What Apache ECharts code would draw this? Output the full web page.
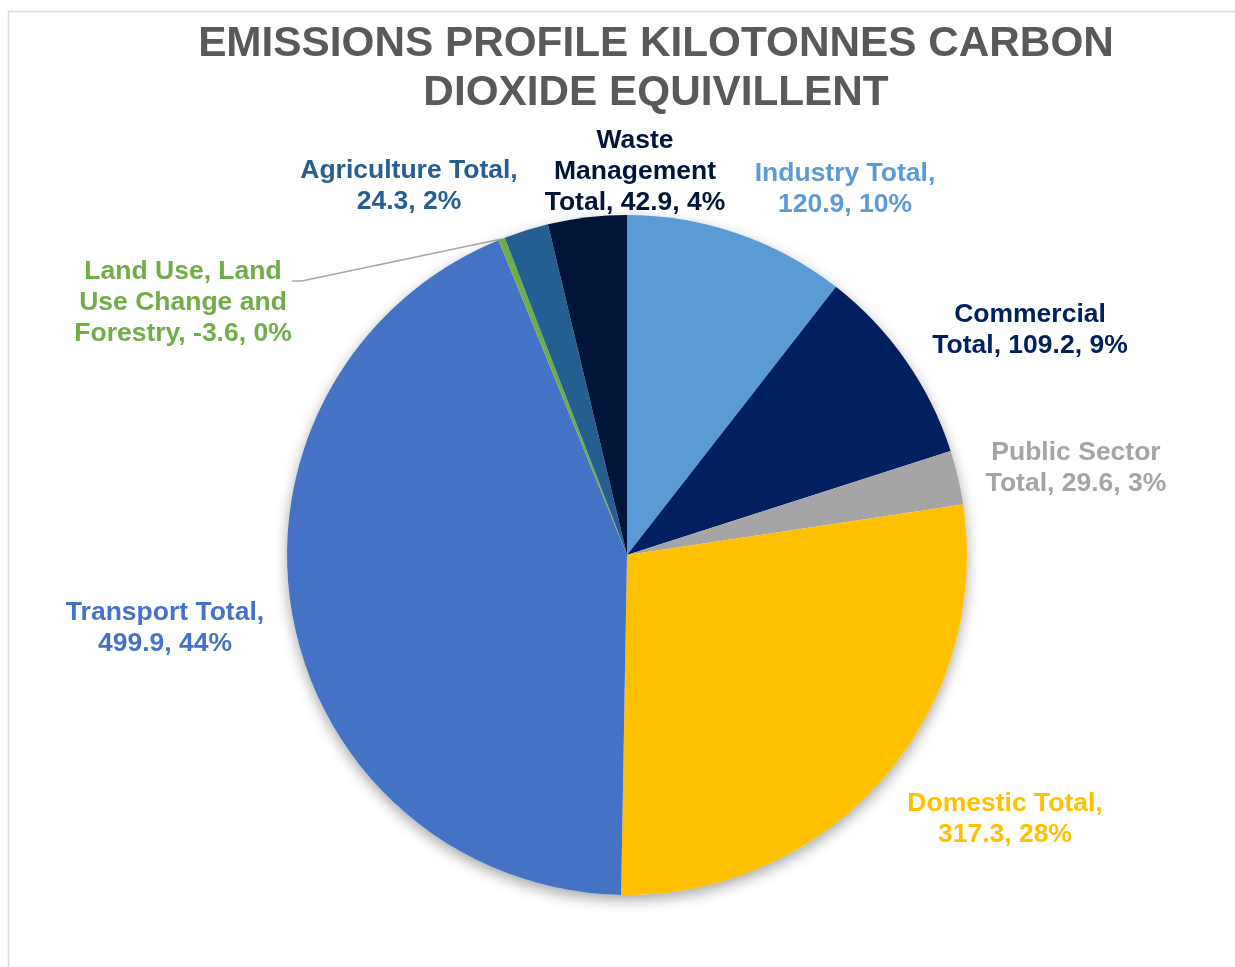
<!DOCTYPE html>
<html>
<head>
<meta charset="utf-8">
<script src="https://cdn.jsdelivr.net/npm/echarts@6/dist/echarts.min.js"></script>
<style>
  html, body { margin: 0; padding: 0; background: #fff; }
  #chart { width: 1235px; height: 967px; }
</style>
</head>
<body>
<div id="chart"></div>
<script>
// 數據：各部門排放量 (kt CO2e)
const categories = [
  'Industry Total',
  'Commercial Total',
  'Public Sector Total',
  'Domestic Total',
  'Transport Total',
  'Land Use, Land Use Change and Forestry',
  'Agriculture Total',
  'Waste Management Total',
]
const values = [120.9, 109.2, 29.6, 317.3, 499.9, -3.6, 24.3, 42.9]
const percents = ['10%', '9%', '3%', '28%', '44%', '0%', '2%', '4%']
// 標籤換行文字
const labelTexts = [
  'Industry Total,\n120.9, 10%',
  'Commercial\nTotal, 109.2, 9%',
  'Public Sector\nTotal, 29.6, 3%',
  'Domestic Total,\n317.3, 28%',
  'Transport Total,\n499.9, 44%',
  'Land Use, Land\nUse Change and\nForestry, -3.6, 0%',
  'Agriculture Total,\n24.3, 2%',
  'Waste\nManagement\nTotal, 42.9, 4%',
]
const colors = ['#5B9BD5', '#002060', '#A5A5A5', '#FFC000', '#4472C4', '#70AD47', '#255E91', '#001538']

// 標籤位置 (版面)
const labelPos = [
  [845, 189], [1030, 330], [1076, 468], [1005, 819],
  [165, 628], [183, 281], [409, 186], [635, 172],
]

const myChart = echarts.init(document.getElementById('chart'))
const font = '"Liberation Sans", Arial, sans-serif'

const pieData = categories.map((name, i) => ({
  name,
  value: Math.abs(values[i]), // 負值以絕對值畫扇形 (同 Excel)
  itemStyle: { color: colors[i] },
  label: { color: colors[i] },
  labelLine: i === 5 ? { show: true, length: 10, length2: 10, lineStyle: { color: '#A6A6A6', width: 1.5 } } : { show: false },
}))

const option = {
  animation: false,
  backgroundColor: '#fff',
  graphic: [
    {
      type: 'rect',
      z: -10,
      shape: { x: 8.5, y: 11.5, width: 1300, height: 1000 },
      style: { fill: 'none', stroke: '#D9D9D9', lineWidth: 1.5 },
    },
    {
      type: 'text',
      x: 656,
      y: 20,
      style: {
        text: 'EMISSIONS PROFILE KILOTONNES CARBON\nDIOXIDE EQUIVILLENT',
        fontFamily: font,
        fontSize: 42.3,
        fontWeight: 'bold',
        lineHeight: 49,
        fill: '#595959',
        align: 'center',
        verticalAlign: 'top',
      },
    },
  ],
  series: [
    // 陰影底圖
    {
      type: 'pie',
      silent: true,
      center: [627, 555],
      radius: 340,
      z: 1,
      label: { show: false },
      labelLine: { show: false },
      itemStyle: {
        color: '#fff',
        shadowBlur: 14,
        shadowOffsetY: 5,
        shadowColor: 'rgba(0,0,0,0.35)',
      },
      data: [{ value: 1 }],
    },
    {
      type: 'pie',
      center: [627, 555],
      radius: 340,
      startAngle: 90,
      clockwise: true,
      z: 2,
      avoidLabelOverlap: false,
      itemStyle: { borderWidth: 0 },
      label: {
        show: true,
        position: 'outside',
        fontFamily: font,
        fontSize: 26.5,
        fontWeight: 'bold',
        lineHeight: 31,
        align: 'center',
        // Land Use 標籤上方加空白行，讓引導線接在第一行附近
        formatter: (p) => (p.dataIndex === 5 ? '{sp| }\n' : '') + labelTexts[p.dataIndex],
        rich: { sp: { fontSize: 1, lineHeight: 44 } },
      },
      labelLine: { show: false },
      labelLayout: (params) => {
        const p = labelPos[params.dataIndex]
        return { x: p[0], y: p[1], align: 'center', verticalAlign: 'middle' }
      },
      data: pieData,
    },
  ],
}

myChart.setOption(option, true)
</script>
</body>
</html>
